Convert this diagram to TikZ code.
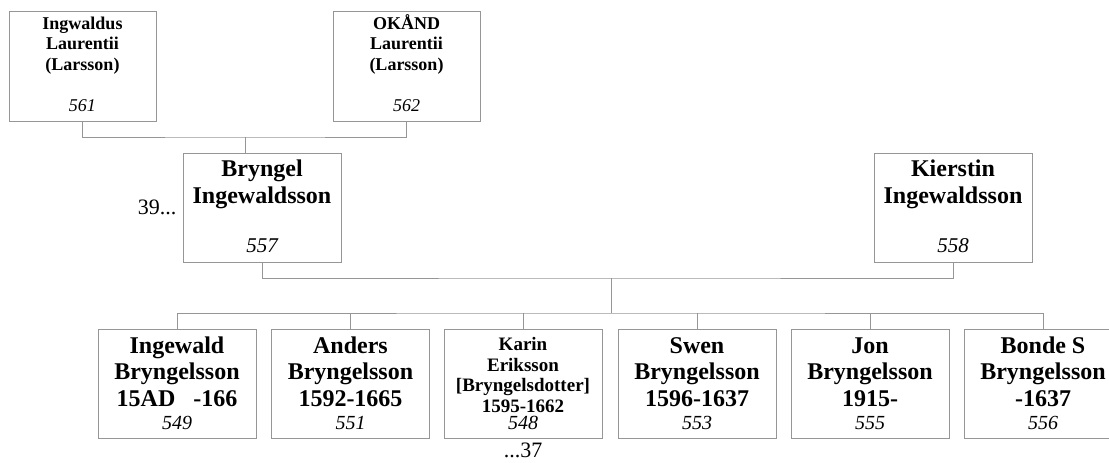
\documentclass[tikz,border=0pt]{standalone}
\usepackage{fontspec}
\setmainfont{Liberation Serif}
\usetikzlibrary{positioning}
\definecolor{LineGray}{RGB}{150,150,150}

% name lines at the top of a card, number at the bottom
\newcommand{\topcard}[2]{\parbox[c][110pt][s]{143pt}{\centering\rule{0pt}{18pt}#1\par\vfill\nointerlineskip{\mdseries\itshape\fontsize{18}{21}\selectfont #2\par}\vspace{9pt}}}
\newcommand{\midcard}[2]{\parbox[c][109pt][s]{154pt}{\centering\rule{0pt}{23pt}#1\par\vfill\nointerlineskip{\mdseries\itshape\fontsize{21}{25}\selectfont #2\par}\vspace{9pt}}}
\newcommand{\kidcard}[3][24pt]{\parbox[c][109pt][s]{154pt}{\centering\rule{0pt}{#1}#2\par\vfill\nointerlineskip{\mdseries\itshape\fontsize{20}{24}\selectfont #3\par}\vspace{8pt}}}

\tikzset{
  card/.style={draw=LineGray, line width=1pt, inner sep=0pt, minimum width=158pt},
  toprow/.style={card, minimum width=147pt, font=\bfseries\fontsize{18}{20.7}\selectfont},
  midrow/.style={card, font=\bfseries\fontsize{24}{27}\selectfont},
  kidrow/.style={card, font=\bfseries\fontsize{24}{26.5}\selectfont},
  link/.style={draw=LineGray, line width=1pt},
  note/.style={inner sep=0pt, font=\fontsize{22}{26}\selectfont},
}

\begin{document}
\begin{tikzpicture}[x=1pt, y=-1pt]
    \useasboundingbox (0,0) rectangle (1109,463);

    % Grandparents
    \node[toprow] (p561) at (82.5,66) {\topcard{Ingwaldus\\Laurentii\\(Larsson)}{561}};
    \node[toprow] (p562) at (406.5,66) {\topcard{OKÅND\\Laurentii\\(Larsson)}{562}};

    % Parents
    \node[midrow] (p557) at (262,207.5) {\midcard{Bryngel\\Ingewaldsson}{557}};
    \node[midrow] (p558) at (953,207.5) {\midcard{Kierstin\\Ingewaldsson}{558}};
    \node[note, left=6pt of p557] (more39) {39...};

    % Children
    \node[kidrow] (p549) at (177,383.5) {\kidcard{Ingewald\\Bryngelsson\\15AD\ \ \ -166}{549}};
    \node[kidrow] (p551) at (350.5,383.5) {\kidcard{Anders\\Bryngelsson\\1592-1665}{551}};
    \node[kidrow] (p548) at (523,383.5) {\kidcard[21.5pt]{\fontsize{19}{20.5}\selectfont Karin\\Eriksson\\{[}Bryngelsdotter{]}\\1595-1662}{548}};
    \node[kidrow] (p553) at (697,383.5) {\kidcard{Swen\\Bryngelsson\\1596-1637}{553}};
    \node[kidrow] (p555) at (870,383.5) {\kidcard{Jon\\Bryngelsson\\1915-}{555}};
    \node[kidrow] (p556) at (1043,383.5) {\kidcard{Bonde S\\Bryngelsson\\-1637}{556}};
    \node[note, below=4pt of p548] (more37) {...37};

    % Connectors
    \coordinate (top) at (245.5,137);
    \draw[link] (p561.south) |- (top) -| (p562.south);
    \draw[link] (top) -- (top |- p557.north);
    \coordinate (couple) at (611,278);
    \draw[link] (p557.south) |- (couple) -| (p558.south);
    \coordinate (kids) at (611,313);
    \draw[link] (couple) -- (kids);
    \draw[link] (p549.north) |- (kids) -| (p556.north);
    \foreach \n in {551,548,553,555}
      \draw[link] (p\n.north) -- (p\n.north |- kids);
\end{tikzpicture}
\end{document}
